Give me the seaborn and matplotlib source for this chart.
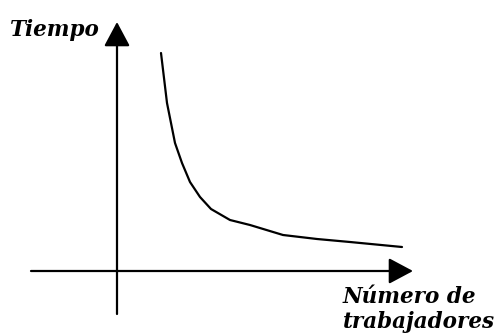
import pandas as pd
import numpy as np
import matplotlib
matplotlib.use('Agg')
import matplotlib.pyplot as plt
import seaborn as sns

# Curve (workers vs time, arbitrary units)
trabajadores = [44, 50, 58, 65, 73, 83, 94, 113, 133, 166, 200, 233, 285]
tiempo = [218, 168, 128, 108, 89, 74, 62, 51, 46, 36, 32, 29, 24]

x_label = 'Número de\ntrabajadores'
y_label = 'Tiempo'

df = pd.DataFrame({'Trabajadores': trabajadores, 'Tiempo': tiempo})

sns.set_theme(style='white')
plt.rcParams['font.family'] = ['DejaVu Serif']

fig = plt.figure(figsize=(4.98, 3.36), dpi=100)
ax = fig.add_axes([0, 0, 1, 1])
ax.set_xlim(-117, 381)
ax.set_ylim(-65, 271)
ax.axis('off')

# Axes with arrow heads
arrow = dict(arrowstyle='-|>,head_length=0.75,head_width=0.4', color='black',
             lw=1.6, mutation_scale=20, shrinkA=0, shrinkB=0)
ax.annotate('', xy=(0, 249), xytext=(0, -43), arrowprops=arrow)
ax.annotate('', xy=(296, 0), xytext=(-86, 0), arrowprops=arrow)

sns.lineplot(data=df, x='Trabajadores', y='Tiempo', sort=False,
             color='black', lw=1.6, ax=ax)
ax.axis('off')

ax.text(-107, 235, y_label, fontsize=15.5, fontweight='bold', fontstyle='italic',
        color='black', ha='left', va='baseline')
ax.text(226, -15, x_label, fontsize=15.5, fontweight='bold', fontstyle='italic',
        color='black', ha='left', va='top', linespacing=1.15)

fig.savefig('out.png', dpi=100)
